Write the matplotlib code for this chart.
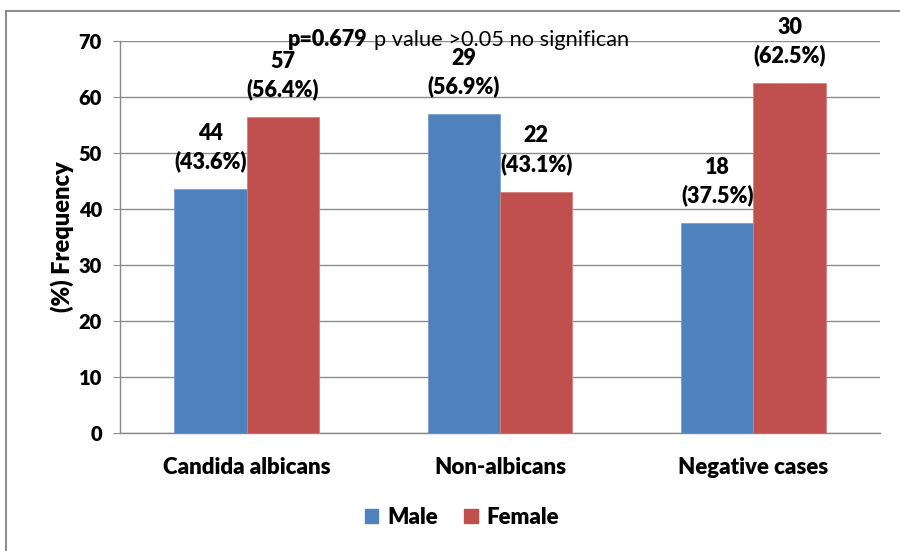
import matplotlib
matplotlib.use("Agg")
import matplotlib.pyplot as plt
import numpy as np
from matplotlib.patches import Patch
from matplotlib.lines import Line2D

categories = ["Candida albicans", "Non-albicans", "Negative cases"]
male_pct = [43.6, 56.9, 37.5]
female_pct = [56.4, 43.1, 62.5]
male_n = [44, 29, 18]
female_n = [57, 22, 30]
series_names = ["Male", "Female"]
yticks = [0, 10, 20, 30, 40, 50, 60, 70]

FONT = ["Lato", "DejaVu Sans"]
plt.rcParams['font.family'] = FONT
WT = "heavy"

W, H = 900, 551
fig = plt.figure(figsize=(W / 100, H / 100), dpi=100)
ax = fig.add_axes([120 / W, 1 - 433 / H, 760 / W, (433 - 41) / H])

blue = "#4F81BD"
red = "#C0504D"
x = np.arange(len(categories))
bw = 0.285
ax.bar(x - bw / 2, male_pct, bw, color=blue, edgecolor="#7C9FD0", linewidth=0.6, zorder=3)
ax.bar(x + bw / 2, female_pct, bw, color=red, edgecolor="#D47F7D", linewidth=0.6, zorder=3)

for xi, v, n in zip(x - bw / 2, male_pct, male_n):
    ax.annotate(f"{n}\n({v}%)", (xi, v), xytext=(0, 12), textcoords="offset points",
                ha="center", va="bottom", fontsize=15.5, fontweight=WT,
                linespacing=1.38, zorder=5)
for xi, v, n in zip(x + bw / 2, female_pct, female_n):
    ax.annotate(f"{n}\n({v}%)", (xi, v), xytext=(0, 12), textcoords="offset points",
                ha="center", va="bottom", fontsize=15.5, fontweight=WT,
                linespacing=1.38, zorder=5)

ax.set_xlim(-0.5, 2.5)
ax.set_ylim(0, 70)
ax.set_yticks(yticks)
ax.set_xticks(x)
ax.set_xticklabels(categories, fontsize=16, fontweight=WT)
for lab in ax.get_yticklabels():
    lab.set_fontsize(14.5)
    lab.set_fontweight(WT)
ax.tick_params(axis="x", length=0, pad=17)
ax.tick_params(axis="y", length=5, color="#888888", pad=8)
ax.grid(axis="y", color="#8C8C8C", linewidth=1.0, zorder=0)
ax.set_axisbelow(True)
for s in ["top", "right"]:
    ax.spines[s].set_visible(False)
ax.spines["left"].set_color("#888888")
ax.spines["bottom"].set_color("#888888")
ax.spines["left"].set_linewidth(1.0)
ax.spines["bottom"].set_linewidth(1.0)

ax.set_ylabel("(%) Frequency", fontsize=17, fontweight=WT, labelpad=3)

# p-value annotation
t1 = fig.text(288 / W, 1 - 40 / H, "p=0.679", fontsize=15.5, fontweight=WT,
              ha="left", va="center")
fig.canvas.draw()
bb = t1.get_window_extent()
fig.text((bb.x1 + 6) / W, 1 - 40 / H, "p value >0.05 no significan", fontsize=15.7,
         ha="left", va="center")

# legend
handles = [Patch(facecolor=blue, edgecolor=blue), Patch(facecolor=red, edgecolor=red)]
leg = fig.legend(handles, series_names, loc="center", bbox_to_anchor=(462 / W, 1 - 517 / H),
                 ncol=2, frameon=False, prop={"family": FONT, "weight": WT, "size": 16},
                 handlelength=0.6, handleheight=0.6, handletextpad=0.4, columnspacing=1.2)

# outer border (top and left only visible)
fig.add_artist(Line2D([6 / W, 1], [1 - 11 / H, 1 - 11 / H], transform=fig.transFigure,
                      color="#8C8C8C", linewidth=1.5))
fig.add_artist(Line2D([6 / W, 6 / W], [0, 1 - 11 / H], transform=fig.transFigure,
                      color="#8C8C8C", linewidth=1.5))

fig.savefig("out.png", dpi=100)
